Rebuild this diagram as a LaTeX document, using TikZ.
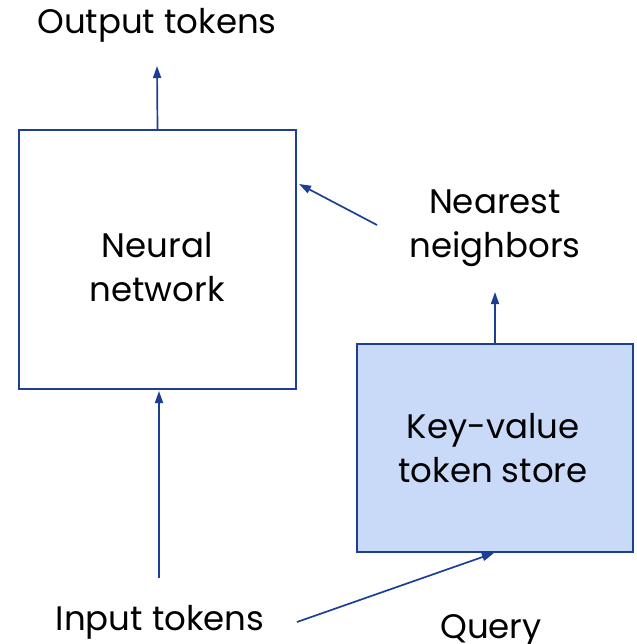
\documentclass[tikz,border=0pt]{standalone}
\usepackage{fontspec}
\setmainfont{Poppins}
\usetikzlibrary{arrows.meta}
\definecolor{edge}{HTML}{1C3F95}
\definecolor{storefill}{HTML}{C9DAF8}
\tikzset{
  every picture/.style={x=1pt,y=1pt},
  label text/.style={font=\fontsize{34}{44}\selectfont, align=center, inner sep=0pt, text=black},
  boxstyle/.style={draw=edge, line width=1.7pt, inner sep=0pt},
  link/.style={draw=edge, line width=1.7pt, -{Triangle[length=12pt,width=8pt]}},
}
\begin{document}
\begin{tikzpicture}
\useasboundingbox (0,0) rectangle (636,-644);

% main blocks
\node[boxstyle, minimum width=277pt, minimum height=259pt] (nn) at (157.5,-259.5) {};
\node[boxstyle, fill=storefill, minimum width=276pt, minimum height=208pt] (kv) at (495,-448) {};

% texts
\node[label text] (nntext) at (157,-267) {Neural\\network};
\node[label text] (kvtext) at (493,-448) {Key-value\\token store};
\node[label text, anchor=base] (out) at (157,-34) {Output tokens};
\node[label text] (nbr) at (495,-228) {Nearest\\neighbors};
\node[label text, anchor=base] (inp) at (160,-630) {Input tokens};
\node[label text, anchor=base] (qry) at (491,-638) {Query};

% connector end points
\coordinate (outtip) at (157,-66);
\coordinate (inbase) at (159,-578);
\coordinate (intip) at (159,-391);
\coordinate (nbrtip) at (495,-292);
\coordinate (nbrstart) at (377,-225);
\coordinate (nntip) at (299,-184);
\coordinate (qstart) at (297,-622);
\coordinate (qtip) at (494,-553);

% connectors
\draw[link] (nn.north) -- (outtip);
\draw[link] (inbase) -- (intip);
\draw[link] (kv.north) -- (nbrtip);
\draw[link] (nbrstart) -- (nntip);
\draw[link] (qstart) -- (qtip);
\end{tikzpicture}
\end{document}
